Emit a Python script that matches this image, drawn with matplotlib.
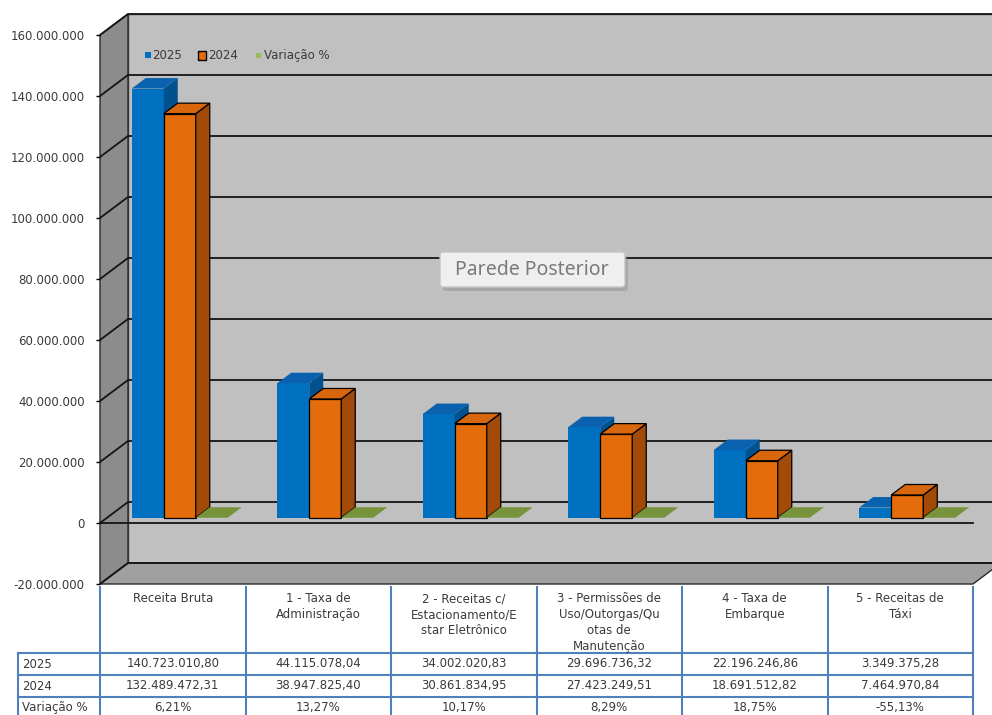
import matplotlib
matplotlib.use("Agg")
import matplotlib.pyplot as plt
from matplotlib.patches import Polygon, Rectangle, FancyBboxPatch
from matplotlib.ticker import FuncFormatter

# ---------------------------------------------------------------- data
categories = [
    "Receita Bruta",
    "1 - Taxa de\nAdministração",
    "2 - Receitas c/\nEstacionamento/E\nstar Eletrônico",
    "3 - Permissões de\nUso/Outorgas/Qu\notas de\nManutenção",
    "4 - Taxa de\nEmbarque",
    "5 - Receitas de\nTáxi",
]
series_names = ["2025", "2024", "Variação %"]
values_2025 = [140723010.80, 44115078.04, 34002020.83, 29696736.32, 22196246.86, 3349375.28]
values_2024 = [132489472.31, 38947825.40, 30861834.95, 27423249.51, 18691512.82, 7464970.84]
variacao_pct = [6.21, 13.27, 10.17, 8.29, 18.75, -55.13]
y_ticks = [-20_000_000, 0, 20_000_000, 40_000_000, 60_000_000, 80_000_000,
           100_000_000, 120_000_000, 140_000_000, 160_000_000]

# ---------------------------------------------------------------- layout
W, H = 992, 715
AX_L, AX_R = 100, 973          # front plane, pixels
Y_TOP, Y_BOT = 35, 584         # pixel rows of 160M and -20M on the front plane
VMIN, VMAX = y_ticks[0], y_ticks[-1]
N = len(categories)

px_per_x = (AX_R - AX_L) / N
px_per_v = (Y_BOT - Y_TOP) / (VMAX - VMIN)
DEPTH_DX, DEPTH_DY = 28, 21    # screen shift of the back plane, pixels
DXu = DEPTH_DX / px_per_x
DVu = DEPTH_DY / px_per_v

BAR_W = 0.22
GROUP_OFF = 0.17
D0, D1 = 0.25, 0.75            # depth range of the bar row

C_WALL = "#C0C0C0"
C_LEFT = "#8C8C8C"
C_FLOOR = "#A0A0A0"
BLUE = dict(front="#0070C0", side="#00518E", top="#0A62AE", edge=None)
ORANGE = dict(front="#E46C0A", side="#A24A08", top="#D8660C", edge="black")
GREEN = dict(top="#77933C")
TXT = "#3A3A3A"
TABLE_LINE = "#4F81BD"
FS = 8.5

plt.rcParams["font.family"] = ["DejaVu Sans"]


def P(x, v, d):
    """Project a point (category x, value v, depth d) onto the front plane."""
    return (x + d * DXu, v + d * DVu)


fig = plt.figure(figsize=(W / 100, H / 100), dpi=100)
fig.patch.set_facecolor("white")
ax = fig.add_axes([AX_L / W, 1 - Y_BOT / H, (AX_R - AX_L) / W, (Y_BOT - Y_TOP) / H])
ax.set_xlim(0, N)
ax.set_ylim(VMIN, VMAX)
ax.patch.set_visible(False)
for s in ax.spines.values():
    s.set_visible(False)
ax.set_xticks([])
ax.set_yticks(y_ticks)
ax.yaxis.set_major_formatter(FuncFormatter(lambda v, _: f"{v:,.0f}".replace(",", ".")))
ax.tick_params(axis="y", length=3, width=1, pad=8, labelsize=FS, labelcolor=TXT, color="black")

# walls and floor
ax.add_patch(Polygon([P(0, VMIN, 1), P(N, VMIN, 1), P(N, VMAX, 1), P(0, VMAX, 1)],
                     closed=True, fc=C_WALL, ec="#4a4a4a", lw=1.0, clip_on=False, zorder=1))
ax.add_patch(Polygon([P(0, VMIN, 0), P(0, VMAX, 0), P(0, VMAX, 1), P(0, VMIN, 1)],
                     closed=True, fc=C_LEFT, ec="#2a2a2a", lw=1.0, clip_on=False, zorder=1.1))
ax.add_patch(Polygon([P(0, VMIN, 0), P(N, VMIN, 0), P(N, VMIN, 1), P(0, VMIN, 1)],
                     closed=True, fc=C_FLOOR, ec="#2a2a2a", lw=1.0, clip_on=False, zorder=1.2))

# gridlines: diagonal on the side wall + horizontal on the back wall
for t in y_ticks:
    a, b, c = P(0, t, 0), P(0, t, 1), P(N, t, 1)
    ax.plot([a[0], b[0], c[0]], [a[1], b[1], c[1]], color="#151515", lw=1.3,
            clip_on=False, zorder=1.5, solid_capstyle="butt")

# category axis line at zero on the front plane
ax.plot([0, N], [0, 0], color="#151515", lw=1.3, clip_on=False, zorder=1.6)

# 3-D columns
z = 3.0
for i in range(N):
    for s, (vals, sty) in enumerate([(values_2025, BLUE), (values_2024, ORANGE)]):
        v = vals[i]
        xl = i + GROUP_OFF + s * BAR_W
        xr = xl + BAR_W
        ec = sty["edge"] if sty["edge"] else "none"
        lw = 0.9 if sty["edge"] else 0
        ax.bar(xl + D0 * DXu, v, width=BAR_W, bottom=D0 * DVu, align="edge",
               color=sty["front"], edgecolor=ec, linewidth=lw, zorder=z, clip_on=False)
        ax.add_patch(Polygon([P(xr, 0, D0), P(xr, v, D0), P(xr, v, D1), P(xr, 0, D1)],
                             closed=True, fc=sty["side"], ec=ec, lw=lw, zorder=z + 0.01,
                             clip_on=False))
        ax.add_patch(Polygon([P(xl, v, D0), P(xr, v, D0), P(xr, v, D1), P(xl, v, D1)],
                             closed=True, fc=sty["top"], ec=ec, lw=lw, zorder=z + 0.02,
                             clip_on=False))
        z += 0.1
    # percentage series: flat columns on this value scale
    v = variacao_pct[i]
    xl = i + GROUP_OFF + 2 * BAR_W
    xr = xl + BAR_W
    ax.bar(xl + D0 * DXu, v, width=BAR_W, bottom=D0 * DVu, align="edge",
           color=GREEN["top"], linewidth=0, zorder=z, clip_on=False)
    ax.add_patch(Polygon([P(xl, v, D0), P(xr, v, D0), P(xr, v, D1), P(xl, v, D1)],
                         closed=True, fc=GREEN["top"], ec="none", zorder=z + 0.02,
                         clip_on=False))
    z += 0.1

# ---------------------------------------------------------------- overlay (pixel space)
ov = fig.add_axes([0, 0, 1, 1])
ov.set_xlim(0, W)
ov.set_ylim(H, 0)
ov.axis("off")
ov.patch.set_visible(False)

# legend
ov.add_patch(Rectangle((145, 52), 6, 6, fc=BLUE["front"], ec="none"))
ov.text(152, 55.5, series_names[0], fontsize=FS, color=TXT, va="center", ha="left")
ov.add_patch(Rectangle((198, 50.5), 8, 9, fc=ORANGE["front"], ec="black", lw=1))
ov.text(208, 55.5, series_names[1], fontsize=FS, color=TXT, va="center", ha="left")
ov.add_patch(Rectangle((256, 53), 4.5, 4.5, fc="#9BBB59", ec="none"))
ov.text(264, 55.5, series_names[2], fontsize=FS, color=TXT, va="center", ha="left")

# "Parede Posterior" hover label
ov.add_patch(FancyBboxPatch((443, 256), 185, 35, boxstyle="round,pad=0,rounding_size=3",
                            fc="#8a8a8a", ec="none", alpha=0.45))
ov.add_patch(FancyBboxPatch((440, 252), 185, 35, boxstyle="round,pad=0,rounding_size=3",
                            fc="#EFEFEF", ec="#C4C4C4", lw=1))
ov.text(532, 270, "Parede Posterior", fontsize=14, color="#7A7A7A",
        ha="center", va="center", family=["Noto Sans", "DejaVu Sans"])

# data table
col_x = [AX_L + k * px_per_x for k in range(N + 1)]
ROW_Y = [653, 675, 697]
TBL_LEFT = 18
for x in col_x:
    ov.plot([x, x], [586, H], color=TABLE_LINE, lw=1.5, solid_capstyle="butt")
ov.plot([TBL_LEFT, TBL_LEFT], [ROW_Y[0], H], color=TABLE_LINE, lw=1.5)
for y in ROW_Y:
    ov.plot([TBL_LEFT, col_x[-1]], [y, y], color=TABLE_LINE, lw=1.5)


def br_num(v):
    return f"{v:,.2f}".replace(",", "X").replace(".", ",").replace("X", ".")


def br_pct(v):
    return f"{v:.2f}%".replace(".", ",")


rows = [
    (series_names[0], [br_num(v) for v in values_2025]),
    (series_names[1], [br_num(v) for v in values_2024]),
    (series_names[2], [br_pct(v) for v in variacao_pct]),
]
for k, cat in enumerate(categories):
    cx = (col_x[k] + col_x[k + 1]) / 2
    ov.text(cx, 592, cat, fontsize=FS, color=TXT, ha="center", va="top", linespacing=1.3)
for r, (name, cells) in enumerate(rows):
    yc = ROW_Y[r] + 11
    ov.text(TBL_LEFT + 4, yc, name, fontsize=FS, color=TXT, ha="left", va="center")
    for k, cell in enumerate(cells):
        cx = (col_x[k] + col_x[k + 1]) / 2
        ov.text(cx, yc, cell, fontsize=FS, color=TXT, ha="center", va="center")

fig.savefig("out.png", dpi=100)
